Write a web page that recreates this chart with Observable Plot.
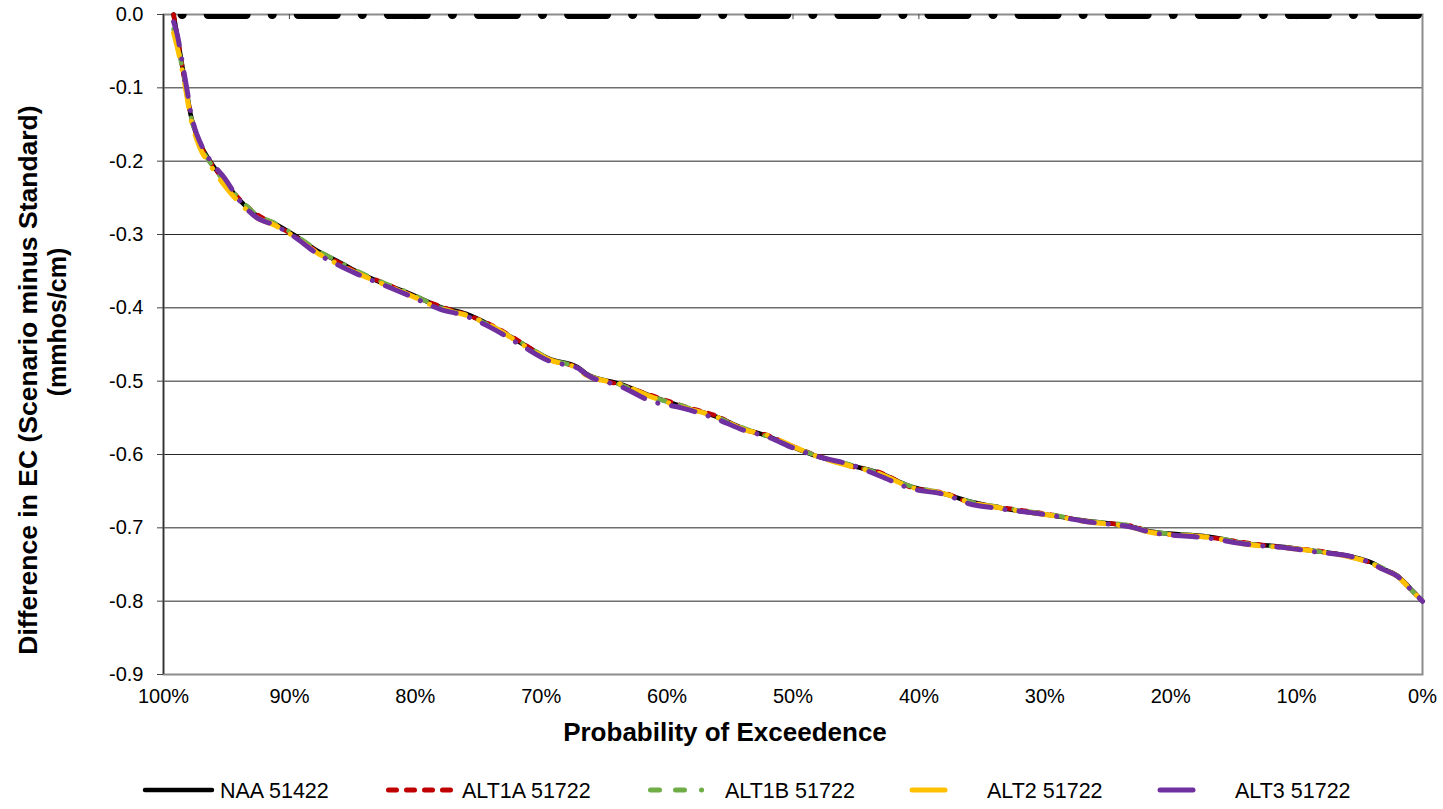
<!DOCTYPE html>
<html><head><meta charset="utf-8">
<script src="https://cdn.jsdelivr.net/npm/d3@7"></script>
<script src="https://cdn.jsdelivr.net/npm/@observablehq/plot@0.6"></script>
<style>
body{margin:0;background:#fff;font-family:"Liberation Sans",Arial,sans-serif}
#chart svg{display:block}
</style>
</head><body><div id="chart"></div>
<script>
// ---- data ----
const probability = [99.2, 98.9, 98.5, 98.1, 97.85, 97.5, 97.1, 96.3, 95.2, 93.9, 92.6, 91.2, 89.7, 87.8, 86.2, 84.6, 82.5, 80.4, 78, 76, 74, 71.6, 69.3, 67.1, 66.4, 63.7, 61.3, 58.7, 56, 53.9, 52, 50, 48, 45.4, 43, 40.9, 37.5, 36.4, 33.5, 29.5, 26.9, 22.9, 21.6, 17, 13.7, 11, 8.4, 5.7, 4.1, 3.1, 2, 1, 0];
const naa51422 = [0, -0.03, -0.071, -0.111, -0.136, -0.158, -0.176, -0.2, -0.226, -0.254, -0.274, -0.285, -0.3, -0.322, -0.336, -0.351, -0.367, -0.381, -0.399, -0.408, -0.424, -0.448, -0.47, -0.481, -0.49, -0.504, -0.52, -0.535, -0.549, -0.565, -0.575, -0.59, -0.603, -0.615, -0.626, -0.642, -0.656, -0.662, -0.673, -0.683, -0.69, -0.699, -0.705, -0.712, -0.722, -0.726, -0.732, -0.739, -0.747, -0.756, -0.765, -0.782, -0.8];
const alt1a51722 = [0, -0.031, -0.072, -0.112, -0.137, -0.159, -0.177, -0.201, -0.225, -0.253, -0.272, -0.286, -0.301, -0.323, -0.337, -0.352, -0.366, -0.382, -0.398, -0.409, -0.423, -0.447, -0.471, -0.482, -0.491, -0.505, -0.519, -0.534, -0.548, -0.566, -0.574, -0.589, -0.602, -0.616, -0.625, -0.643, -0.655, -0.663, -0.672, -0.682, -0.691, -0.698, -0.706, -0.713, -0.721, -0.727, -0.731, -0.74, -0.748, -0.757, -0.766, -0.783, -0.8];
const alt1b51722 = [-0.02, -0.04, -0.074, -0.113, -0.137, -0.16, -0.178, -0.202, -0.227, -0.252, -0.273, -0.284, -0.299, -0.321, -0.336, -0.35, -0.366, -0.38, -0.4, -0.409, -0.425, -0.447, -0.47, -0.482, -0.49, -0.505, -0.521, -0.534, -0.55, -0.564, -0.576, -0.59, -0.602, -0.614, -0.627, -0.642, -0.655, -0.662, -0.672, -0.682, -0.69, -0.698, -0.705, -0.712, -0.722, -0.727, -0.732, -0.74, -0.748, -0.755, -0.766, -0.783, -0.8];
const alt251722 = [-0.025, -0.045, -0.077, -0.116, -0.141, -0.163, -0.182, -0.205, -0.232, -0.258, -0.277, -0.287, -0.302, -0.325, -0.34, -0.353, -0.368, -0.383, -0.401, -0.41, -0.424, -0.449, -0.471, -0.483, -0.492, -0.504, -0.521, -0.536, -0.549, -0.566, -0.574, -0.589, -0.603, -0.616, -0.627, -0.643, -0.656, -0.663, -0.673, -0.683, -0.691, -0.7, -0.706, -0.713, -0.723, -0.727, -0.732, -0.74, -0.748, -0.757, -0.766, -0.783, -0.8];
const alt351722 = [-0.01, -0.028, -0.066, -0.106, -0.132, -0.156, -0.174, -0.199, -0.222, -0.255, -0.277, -0.287, -0.302, -0.326, -0.341, -0.354, -0.369, -0.384, -0.402, -0.411, -0.427, -0.451, -0.473, -0.482, -0.491, -0.507, -0.527, -0.537, -0.552, -0.567, -0.576, -0.591, -0.603, -0.614, -0.63, -0.645, -0.657, -0.665, -0.674, -0.683, -0.691, -0.7, -0.706, -0.714, -0.723, -0.727, -0.733, -0.739, -0.748, -0.757, -0.766, -0.783, -0.8];
const zeroLineP = [99.2, 0];
const zeroLineV = [0, 0];
const seriesNames = ["NAA 51422", "ALT1A 51722", "ALT1B 51722", "ALT2 51722", "ALT3 51722"];
const xTickValues = [100, 90, 80, 70, 60, 50, 40, 30, 20, 10, 0];
const yTickValues = [0, -0.1, -0.2, -0.3, -0.4, -0.5, -0.6, -0.7, -0.8, -0.9];
const xTitle = "Probability of Exceedence";
const yTitle1 = "Difference in EC (Scenario minus Standard)";
const yTitle2 = "(mmhos/cm)";

// ---- styling ----
const seriesStyle = [
  {color: "#000000", dash: null, width: 4.5},
  {color: "#C00000", dash: "6,9", width: 4.5},
  {color: "#70AD47", dash: "10,15,10,15,0.1,15", width: 4.5},
  {color: "#FFC000", dash: "24,14,0.1,14", width: 5},
  {color: "#7030A0", dash: "24,14,0.1,14", width: 5}
];
const legendStyle = [
  {x0: 145, x1: 212, tx: 220, dash: null, w: 4.5},
  {x0: 388.5, x1: 455, tx: 462, dash: "8,10", w: 5},
  {x0: 650.5, x1: 717, tx: 725, dash: "9,16,9,17,0.1,100", w: 5},
  {x0: 912, x1: 964, tx: 987, dash: "33,19,0.1,100", w: 5},
  {x0: 1160, x1: 1212, tx: 1235, dash: "33,19,0.1,100", w: 5}
];

const seriesValues = [naa51422, alt1a51722, alt1b51722, alt251722, alt351722];
const toRows = vals => probability.map((p, i) => ({p, v: vals[i]}));
const zeroRows = zeroLineP.map((p, i) => ({p, v: zeroLineV[i]}));

const lineMarks = seriesValues.map((vals, i) => {
  const s = seriesStyle[i];
  const opts = {x: "p", y: "v", stroke: s.color, strokeWidth: s.width, curve: "monotone-x", strokeLinecap: "round", strokeLinejoin: "round"};
  if (s.dash) opts.strokeDasharray = s.dash;
  return Plot.line(toRows(vals), opts);
});

const chart = Plot.plot({
  width: 1443,
  height: 770,
  marginLeft: 163,
  marginRight: 21,
  marginTop: 14,
  marginBottom: 96,
  style: {fontFamily: "'Liberation Sans', Arial, sans-serif", fontSize: "20px", color: "#000", background: "#fff", overflow: "visible"},
  x: {domain: [100, 0]},
  y: {domain: [-0.9, 0]},
  marks: [
    Plot.gridY(yTickValues, {stroke: "#000", strokeOpacity: 0.85, strokeWidth: 1}),
    Plot.frame({stroke: "#8c8c8c", strokeWidth: 2}),
    Plot.ruleX([100], {stroke: "#333", strokeWidth: 1.5}),
    Plot.ruleX(xTickValues.slice(1, -1), {x: d => d, y1: 0, y2: -0.007, stroke: "#444", strokeWidth: 1}),
    Plot.axisY({ticks: yTickValues, tickFormat: d => d.toFixed(1), tickSize: 6, tickPadding: 14, label: null, fontSize: 20, stroke: "#444"}),
    Plot.axisX({ticks: xTickValues, tickFormat: d => d + "%", tickSize: 0, tickPadding: 14, label: null, fontSize: 20}),
    Plot.line(zeroRows, {x: "p", y: "v", stroke: "#000", strokeWidth: 9, strokeDasharray: "38,26,0.1,26", strokeDashoffset: 55.5, strokeLinecap: "round", clip: true}),
    ...lineMarks
  ]
});

const svg = d3.select(chart);
svg.append("text")
  .attr("x", 725).attr("y", 741)
  .attr("text-anchor", "middle")
  .attr("font-weight", "bold").attr("font-size", 26).attr("fill", "#000")
  .text(xTitle);
svg.append("text")
  .attr("transform", "translate(37,380) rotate(-90)")
  .attr("text-anchor", "middle")
  .attr("font-weight", "bold").attr("font-size", 26.5).attr("fill", "#000")
  .text(yTitle1);
svg.append("text")
  .attr("transform", "translate(66,322) rotate(-90)")
  .attr("text-anchor", "middle")
  .attr("font-weight", "bold").attr("font-size", 25).attr("fill", "#000")
  .text(yTitle2);

document.getElementById("chart").appendChild(chart);

// ---- legend below the chart ----
const legend = d3.select("#chart").append("svg")
  .attr("width", 1443).attr("height", 39)
  .style("display", "block")
  .style("font-family", "'Liberation Sans', Arial, sans-serif");
seriesNames.forEach((name, i) => {
  const L = legendStyle[i], s = seriesStyle[i];
  const ln = legend.append("line")
    .attr("x1", L.x0).attr("x2", L.x1).attr("y1", 20).attr("y2", 20)
    .attr("stroke", s.color).attr("stroke-width", L.w).attr("stroke-linecap", "round");
  if (L.dash) ln.attr("stroke-dasharray", L.dash);
  legend.append("text")
    .attr("x", L.tx).attr("y", 27.5)
    .attr("font-size", 21.5).attr("fill", "#000")
    .text(name);
});
</script>
</body></html>
